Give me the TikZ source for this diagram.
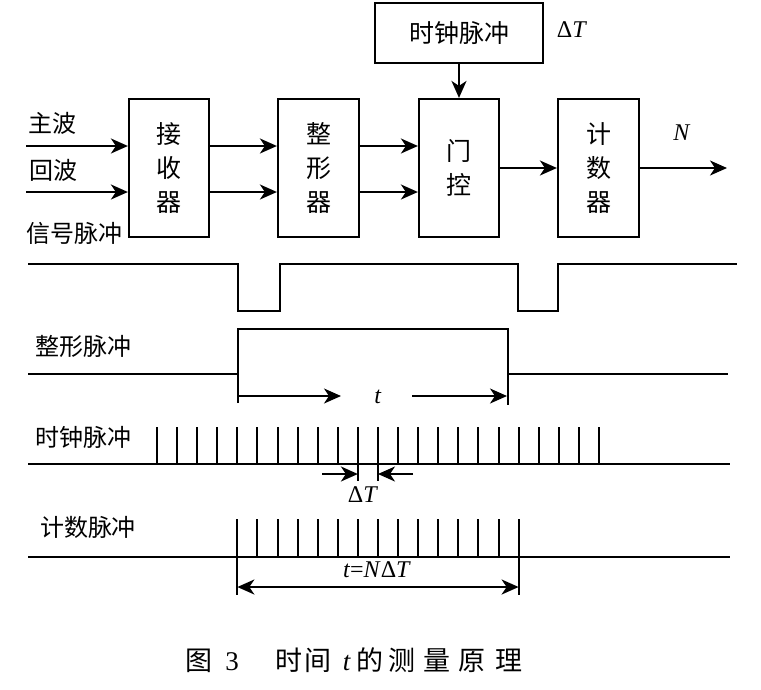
\documentclass[tikz,border=0pt]{standalone}
\usepackage{fontspec}
\setmainfont{Liberation Serif}
\newfontfamily\cjk{Noto Sans CJK SC}
\usetikzlibrary{arrows.meta}
\begin{document}
\begin{tikzpicture}[x=1pt,y=-1pt,
  line width=2pt,
  arr/.style={-{Stealth[length=17pt,width=15pt,inset=5pt]}},
  darr/.style={{Stealth[length=17pt,width=15pt,inset=5pt]}-{Stealth[length=17pt,width=15pt,inset=5pt]}},
  blk/.style={draw,line width=2.2pt,minimum width=80pt,minimum height=138pt,inner sep=0pt,align=center,font=\cjk\fontsize{25}{34}\selectfont},
  lbl/.style={font=\cjk\fontsize{24}{28}\selectfont,inner sep=0pt},
  mth/.style={font=\fontsize{24}{26}\selectfont,inner sep=0pt},
  wave/.style={line width=2pt}
]
\useasboundingbox (0,0) rectangle (761,689);
\fill[white] (0,0) rectangle (761,689);

% ---- block diagram ----
\node[blk] (rx) at (169,168) {接\\收\\器};
\node[blk,minimum width=81pt] (sh) at (318.5,168) {整\\形\\器};
\node[blk] (gt) at (459,168) {门\\控};
\node[blk,minimum width=81pt] (ct) at (598.5,168) {计\\数\\器};
\node[blk,minimum width=168pt,minimum height=60pt] (ck) at (459,33) {时钟脉冲};

\node[lbl] (l1) at (52,123) {主波};
\node[lbl] (l2) at (54,170) {回波};
\node[lbl] (l3) at (75,233) {信号脉冲};
\node[mth] (dT1) at (572,30) {Δ\textit{T}};
\node[mth] (Nl) at (682,133) {\textit{N}};

\coordinate (a1) at (26,146);
\coordinate (a2) at (26,192);
\coordinate (o) at (727,168);
\draw[arr] (a1) -- (a1 -| rx.west);
\draw[arr] (a2) -- (a2 -| rx.west);
\draw[arr] (a1 -| rx.east) -- (a1 -| sh.west);
\draw[arr] (a2 -| rx.east) -- (a2 -| sh.west);
\draw[arr] (a1 -| sh.east) -- (a1 -| gt.west);
\draw[arr] (a2 -| sh.east) -- (a2 -| gt.west);
\draw[arr] (ck) -- (gt);
\draw[arr] (gt) -- (ct);
\draw[arr] (ct) -- (o);

% ---- signal pulse ----
\draw[wave] (28,264) -- (238,264) -- (238,311) -- (280,311) -- (280,264) -- (518,264) -- (518,311) -- (558,311) -- (558,264) -- (737,264);

% ---- shaping pulse ----
\node[lbl] (l4) at (83,346) {整形脉冲};
\draw[wave] (28,374) -- (238,374);
\draw[wave] (238,403) -- (238,329) -- (508,329) -- (508,405);
\draw[wave] (508,374) -- (728,374);
\node[mth] (tl) at (378,397) {\textit{t}};
\coordinate (t1) at (238,396);
\coordinate (t2) at (341,396);
\coordinate (t3) at (412,396);
\coordinate (t4) at (507,396);
\draw[arr] (t1) -- (t2);
\draw[arr] (t3) -- (t4);

% ---- clock pulse ----
\node[lbl] (l5) at (83,437) {时钟脉冲};
\draw[wave] (28,464) -- (730,464);
\foreach \i in {0,...,22} \draw[wave] ({157+20.09*\i},427) -- ({157+20.09*\i},464);
\draw[wave] ({157+20.09*10},464) -- ({157+20.09*10},481);
\draw[wave] ({157+20.09*11},464) -- ({157+20.09*11},481);
\coordinate (d1) at (322,474);
\coordinate (d2) at ({157+20.09*10},474);
\coordinate (d3) at (413,474);
\coordinate (d4) at ({157+20.09*11},474);
\draw[arr] (d1) -- (d2);
\draw[arr] (d3) -- (d4);
\node[mth] (dT2) at (363,495) {Δ\textit{T}};

% ---- count pulse ----
\node[lbl] (l6) at (88,527) {计数脉冲};
\draw[wave] (28,557) -- (730,557);
\foreach \i in {4,...,18} \draw[wave] ({157+20.09*\i},519) -- ({157+20.09*\i},557);
\draw[wave] ({157+20.09*4},557) -- ({157+20.09*4},595);
\draw[wave] ({157+20.09*18},557) -- ({157+20.09*18},595);
\coordinate (c1) at ({157+20.09*4},587);
\coordinate (c2) at ({157+20.09*18},587);
\draw[darr] (c1) -- (c2);
\node[mth] (tn) at (377,570) {\textit{t}=\textit{N}Δ\textit{T}};

% ---- caption ----
\node[anchor=west,inner sep=0pt,font=\fontsize{27}{30}\selectfont] (cap) at (184,660)
 {{\cjk 图}\hspace{13pt}\makebox[14pt]{3}\hspace{36pt}{\cjk 时}\hspace{3pt}{\cjk 间}\hspace{9pt}\makebox[12pt]{\textit{t}}\hspace{3pt}{\cjk 的}\hspace{6pt}{\cjk 测}\hspace{8pt}{\cjk 量}\hspace{8pt}{\cjk 原}\hspace{10pt}{\cjk 理}};
\end{tikzpicture}
\end{document}
